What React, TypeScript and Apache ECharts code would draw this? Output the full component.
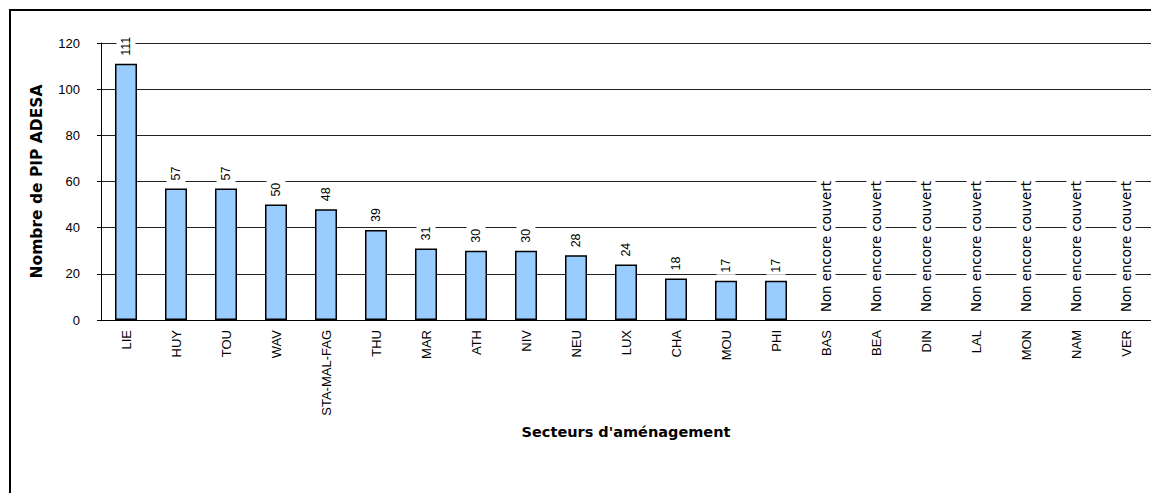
import React, { useEffect, useRef } from "react";
import * as echarts from "echarts";

const categories = [
  "LIE", "HUY", "TOU", "WAV", "STA-MAL-FAG", "THU", "MAR", "ATH", "NIV", "NEU",
  "LUX", "CHA", "MOU", "PHI", "BAS", "BEA", "DIN", "LAL", "MON", "NAM", "VER",
];
// null = sector not yet covered
const pipCounts: (number | null)[] = [
  111, 57, 57, 50, 48, 39, 31, 30, 30, 28, 24, 18, 17, 17,
  null, null, null, null, null, null, null,
];
const uncoveredText = "Non encore couvert";
const yMin = 0;
const yMax = 120;
const yStep = 20;
const yAxisTitle = "Nombre de PIP ADESA";
const xAxisTitle = "Secteurs d'aménagement";

export default function App() {
  const ref = useRef<HTMLDivElement>(null);
  useEffect(() => {
    if (!ref.current) return;
    const chart = echarts.init(ref.current, null, { renderer: "svg" });
    const data = pipCounts.map((v) =>
      v == null
        ? {
            value: 0,
            itemStyle: { borderWidth: 0, color: "transparent" },
            label: {
              formatter: uncoveredText,
              fontFamily: "DejaVu Sans",
              fontSize: 13.3,
            },
          }
        : v
    );
    chart.setOption({
      animation: false,
      backgroundColor: "#fff",
      grid: { left: 101, top: 43, width: 1052, height: 277, containLabel: false },
      graphic: [
        {
          type: "rect",
          shape: { x: 10, y: 10, width: 1300, height: 700 },
          style: { fill: "none", stroke: "#000", lineWidth: 2 },
          silent: true,
          z: 100,
        },
      ],
      xAxis: {
        type: "category",
        data: categories,
        name: xAxisTitle,
        nameLocation: "middle",
        nameGap: 104,
        nameTextStyle: {
          fontFamily: "DejaVu Sans",
          fontWeight: "bold",
          fontSize: 14.5,
          color: "#000",
        },
        axisLine: { show: true, lineStyle: { color: "#000", width: 1 } },
        axisTick: { show: false },
        axisLabel: {
          rotate: 90,
          interval: 0,
          margin: 10,
          fontFamily: "Liberation Sans",
          fontSize: 13,
          color: "#000",
        },
      },
      yAxis: {
        type: "value",
        min: yMin,
        max: yMax,
        interval: yStep,
        name: yAxisTitle,
        nameLocation: "middle",
        nameRotate: 90,
        nameGap: 56,
        nameTextStyle: {
          fontFamily: "DejaVu Sans",
          fontWeight: "bold",
          fontSize: 15.5,
          color: "#000",
        },
        axisLine: { show: true, lineStyle: { color: "#000", width: 1 } },
        axisTick: { show: true, length: 4, lineStyle: { color: "#000" } },
        axisLabel: {
          margin: 21,
          fontFamily: "Liberation Sans Narrow, Liberation Sans, sans-serif",
          fontSize: 13,
          color: "#000",
        },
        splitLine: { show: true, lineStyle: { color: "#222", width: 1 } },
      },
      series: [
        {
          type: "bar",
          data,
          barWidth: 22,
          itemStyle: { color: "#99ccff", borderColor: "#000", borderWidth: 1.5 },
          label: {
            show: true,
            position: "top",
            rotate: 90,
            align: "left",
            verticalAlign: "middle",
            distance: 6,
            color: "#000",
            fontFamily: "Liberation Sans",
            fontSize: 12.5,
            backgroundColor: "#fff",
            padding: [3, 2, 3, 2],
          },
        },
      ],
    });
    return () => chart.dispose();
  }, []);
  return (
    <div
      ref={ref}
      style={{ position: "fixed", left: 0, top: 0, width: 1151, height: 493 }}
    />
  );
}
